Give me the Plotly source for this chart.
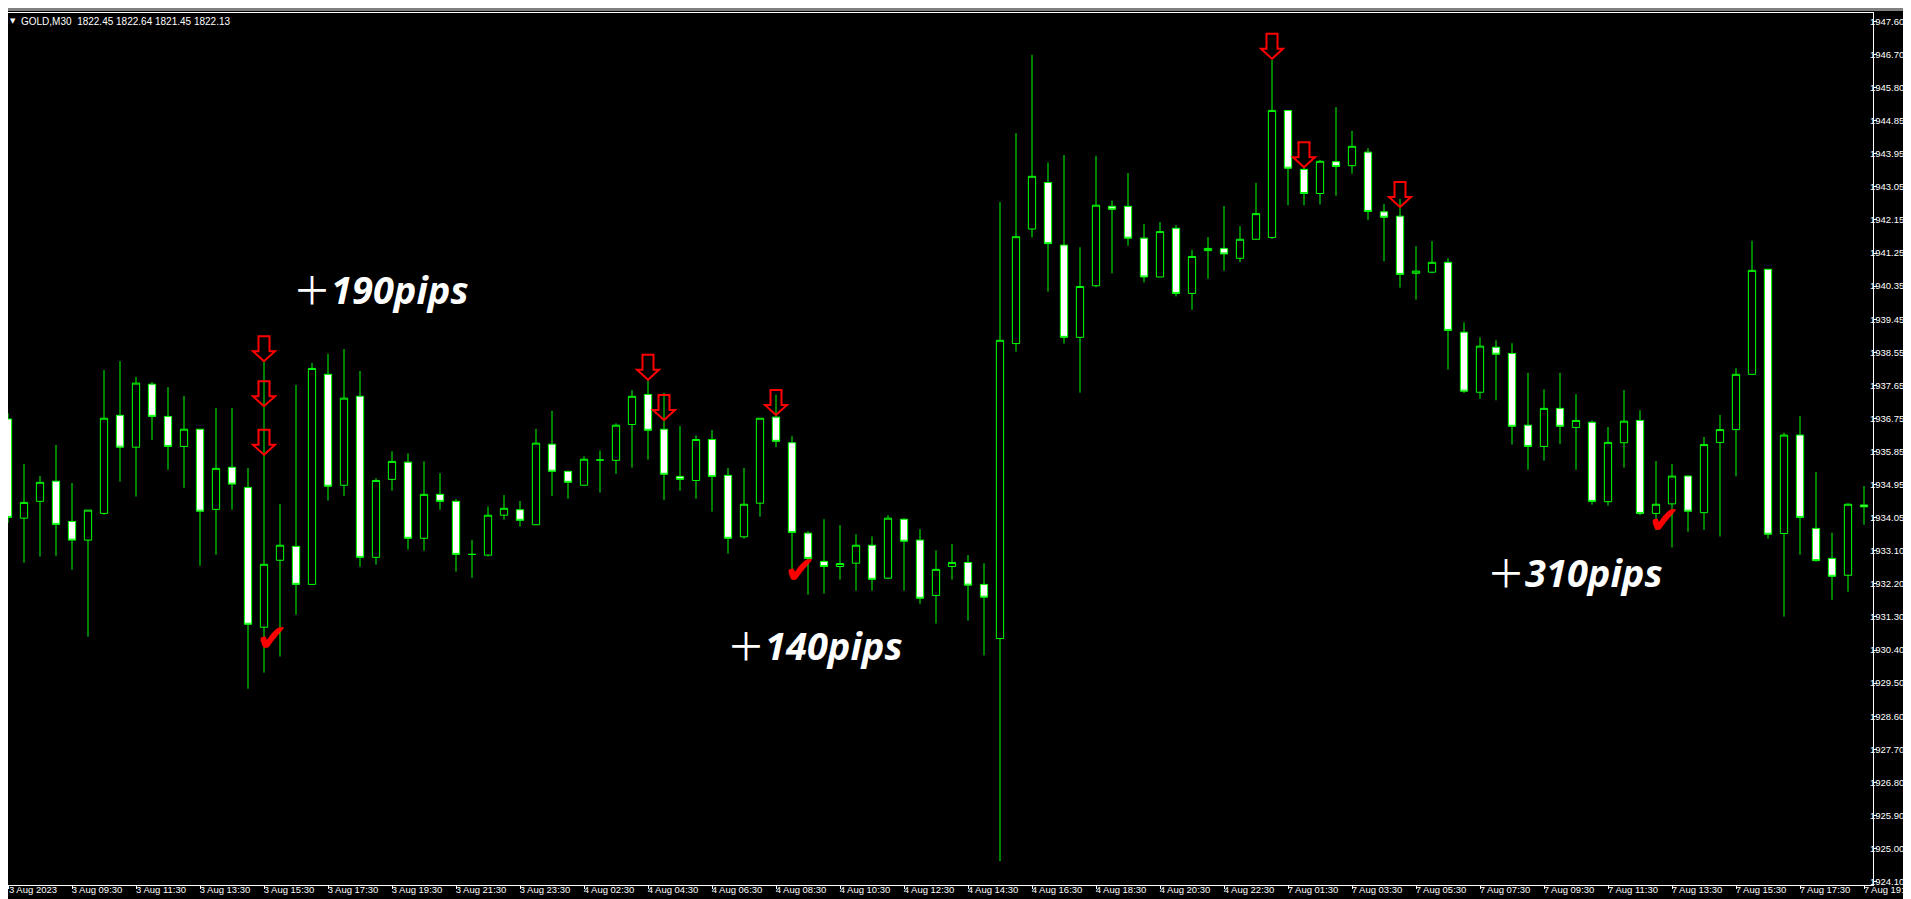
import numpy as np
import plotly.graph_objects as go

# | data section |
# GOLD M30 bars, 3 Aug 07:30 -> 7 Aug 19:30 (left to right)
opens = [
    1936.74, 1934.03, 1934.49, 1935.04, 1933.94, 1933.43, 1934.16, 1936.84, 1935.97, 1937.69,
    1936.81, 1935.99, 1936.46, 1934.27, 1935.42, 1934.87, 1931.05, 1932.88, 1933.26, 1932.22,
    1937.96, 1934.93, 1937.36, 1932.96, 1935.09, 1935.56, 1933.48, 1934.68, 1934.49, 1933.04,
    1933.02, 1934.11, 1934.26, 1933.85, 1936.05, 1935.31, 1934.93, 1935.62, 1935.61, 1936.59,
    1937.41, 1936.46, 1935.17, 1935.06, 1936.18, 1935.20, 1933.52, 1934.44, 1936.79, 1936.09,
    1933.62, 1932.85, 1932.71, 1932.80, 1933.29, 1932.39, 1934.00, 1933.43, 1931.92, 1932.71,
    1932.82, 1932.22, 1930.74, 1938.80, 1941.93, 1943.20, 1941.49, 1938.97, 1940.38, 1942.55,
    1942.55, 1941.68, 1940.62, 1941.95, 1940.17, 1941.34, 1941.40, 1941.13, 1941.65, 1941.70,
    1945.17, 1943.56, 1942.90, 1943.77, 1943.66, 1944.03, 1942.40, 1942.28, 1940.72, 1940.75,
    1941.02, 1939.11, 1937.47, 1938.70, 1938.53, 1936.57, 1935.99, 1937.03, 1936.51, 1936.65,
    1934.48, 1936.09, 1936.70, 1934.16, 1934.42, 1935.18, 1934.18, 1936.10, 1936.45, 1937.96,
    1940.83, 1933.61, 1936.30, 1933.75, 1932.93, 1932.47, 1934.39,
]
highs = [
    1936.90, 1935.51, 1935.18, 1936.03, 1934.99, 1934.25, 1938.08, 1938.32, 1937.89, 1937.75,
    1937.61, 1937.37, 1936.46, 1937.04, 1937.04, 1935.40, 1938.32, 1934.42, 1937.67, 1938.27,
    1938.52, 1938.65, 1938.05, 1935.12, 1935.86, 1935.80, 1935.58, 1935.26, 1934.55, 1933.43,
    1934.35, 1934.66, 1934.50, 1936.47, 1936.96, 1935.31, 1935.72, 1935.88, 1936.62, 1937.53,
    1937.81, 1937.45, 1936.55, 1936.29, 1936.44, 1935.40, 1935.40, 1936.76, 1937.40, 1936.27,
    1933.67, 1934.00, 1933.84, 1933.59, 1933.53, 1934.11, 1934.03, 1933.73, 1933.15, 1933.32,
    1933.02, 1932.80, 1942.67, 1944.55, 1946.69, 1943.75, 1943.95, 1941.43, 1943.93, 1942.71,
    1943.46, 1942.07, 1942.12, 1942.04, 1941.36, 1941.71, 1942.56, 1942.01, 1943.19, 1946.55,
    1945.17, 1943.62, 1943.82, 1945.26, 1944.61, 1944.14, 1942.61, 1942.75, 1941.46, 1941.60,
    1941.13, 1939.38, 1938.97, 1938.89, 1938.81, 1938.00, 1937.55, 1938.00, 1937.42, 1936.70,
    1936.52, 1937.53, 1936.98, 1935.59, 1935.51, 1935.20, 1936.25, 1936.85, 1938.13, 1941.61,
    1940.83, 1936.36, 1936.82, 1935.29, 1933.63, 1934.44, 1934.91,
]
lows = [
    1933.90, 1932.81, 1932.98, 1933.00, 1932.62, 1930.79, 1934.12, 1935.03, 1934.62, 1936.17,
    1935.35, 1934.86, 1932.73, 1933.03, 1934.26, 1929.37, 1929.81, 1930.25, 1931.39, 1932.22,
    1934.51, 1934.64, 1932.70, 1932.76, 1934.78, 1933.17, 1933.14, 1934.26, 1932.57, 1932.40,
    1932.98, 1933.99, 1933.80, 1933.85, 1934.64, 1934.56, 1934.93, 1934.73, 1935.24, 1935.41,
    1935.63, 1934.53, 1934.78, 1934.56, 1934.21, 1933.06, 1933.47, 1934.07, 1935.97, 1932.51,
    1931.94, 1931.97, 1932.35, 1932.05, 1932.05, 1932.36, 1932.05, 1931.69, 1931.15, 1932.35,
    1931.23, 1930.28, 1924.66, 1938.58, 1941.70, 1940.22, 1938.80, 1937.46, 1940.34, 1940.72,
    1941.47, 1940.47, 1940.62, 1940.09, 1939.72, 1940.57, 1940.79, 1941.03, 1941.65, 1941.66,
    1942.58, 1942.58, 1942.60, 1942.84, 1943.44, 1942.18, 1941.05, 1940.33, 1940.00, 1940.72,
    1938.09, 1937.45, 1937.29, 1937.25, 1936.04, 1935.35, 1935.60, 1936.06, 1935.35, 1934.40,
    1934.37, 1935.41, 1934.11, 1933.70, 1933.23, 1933.66, 1933.71, 1933.53, 1935.17, 1937.96,
    1933.47, 1931.34, 1933.03, 1932.84, 1931.80, 1932.02, 1933.85,
]
closes = [
    1934.05, 1934.46, 1935.01, 1933.86, 1933.43, 1934.25, 1936.76, 1935.97, 1937.72, 1936.81,
    1935.99, 1936.46, 1934.22, 1935.39, 1934.96, 1931.13, 1932.77, 1933.29, 1932.22, 1938.12,
    1934.90, 1937.31, 1932.96, 1935.06, 1935.58, 1933.48, 1934.68, 1934.49, 1933.04, 1933.04,
    1934.11, 1934.30, 1933.97, 1936.08, 1935.31, 1935.01, 1935.64, 1935.62, 1936.57, 1937.36,
    1936.43, 1935.23, 1935.09, 1936.18, 1935.17, 1933.48, 1934.41, 1936.76, 1936.13, 1933.64,
    1932.93, 1932.71, 1932.79, 1933.29, 1932.36, 1934.03, 1933.40, 1931.84, 1932.63, 1932.82,
    1932.20, 1931.87, 1938.89, 1941.72, 1943.37, 1941.53, 1938.97, 1940.36, 1942.58, 1942.47,
    1941.68, 1940.62, 1941.86, 1940.17, 1941.18, 1941.40, 1941.25, 1941.65, 1942.35, 1945.17,
    1943.59, 1942.90, 1943.78, 1943.64, 1944.19, 1942.41, 1942.25, 1940.69, 1940.78, 1941.02,
    1939.16, 1937.50, 1938.73, 1938.51, 1936.54, 1935.99, 1937.03, 1936.54, 1936.70, 1934.49,
    1936.10, 1936.68, 1934.16, 1934.41, 1935.18, 1934.22, 1936.04, 1936.45, 1937.96, 1940.80,
    1933.59, 1936.30, 1934.05, 1932.87, 1932.44, 1934.41, 1934.34,
]

# time axis labels (every 4th bar)
time_ticks = [
    "3 Aug 2023", "3 Aug 09:30", "3 Aug 11:30", "3 Aug 13:30", "3 Aug 15:30",
    "3 Aug 17:30", "3 Aug 19:30", "3 Aug 21:30", "3 Aug 23:30", "4 Aug 02:30",
    "4 Aug 04:30", "4 Aug 06:30", "4 Aug 08:30", "4 Aug 10:30", "4 Aug 12:30",
    "4 Aug 14:30", "4 Aug 16:30", "4 Aug 18:30", "4 Aug 20:30", "4 Aug 22:30",
    "7 Aug 01:30", "7 Aug 03:30", "7 Aug 05:30", "7 Aug 07:30", "7 Aug 09:30",
    "7 Aug 11:30", "7 Aug 13:30", "7 Aug 15:30", "7 Aug 17:30", "7 Aug 19:30",
]
price_ticks = [
    "1947.60", "1946.70", "1945.80", "1944.85", "1943.95", "1943.05", "1942.15",
    "1941.25", "1940.35", "1939.45", "1938.55", "1937.65", "1936.75", "1935.85",
    "1934.95", "1934.05", "1933.10", "1932.20", "1931.30", "1930.40", "1929.50",
    "1928.60", "1927.70", "1926.80", "1925.90", "1925.00", "1924.10",
]

# sell signals (bar, price at arrow tip) and exits (bar, price)
arrow_bars = [16, 16, 16, 40, 41, 48, 79, 81, 87]
arrow_prices = [1938.32, 1937.09, 1935.76, 1937.81, 1936.71, 1936.85, 1946.58, 1943.62, 1942.53]
check_bars = [16.5, 49.5, 103.5]
check_prices = [1930.76, 1932.61, 1933.97]
result_texts = ["190pips", "140pips", "310pips"]
result_bars = [23.3, 50.4, 97.9]
result_prices = [1940.29, 1930.57, 1932.56]

header = "GOLD,M30\u00a0\u00a01822.45 1822.64 1821.45 1822.13"

# | graph section |
bars = list(range(len(opens)))
green = "#00ff00"

fig = go.Figure()
fig.add_trace(
    go.Candlestick(
        x=bars,
        open=opens,
        high=highs,
        low=lows,
        close=closes,
        increasing={"line": {"color": green, "width": 1}, "fillcolor": "black"},
        decreasing={"line": {"color": green, "width": 1}, "fillcolor": "white"},
        whiskerwidth=0,
        hoverinfo="skip",
    )
)

# hollow red arrows above the signal bars
arrow_path = "M0,0 L-11,10 L-5.5,10 L-5.5,25 L5.5,25 L5.5,10 L11,10 Z"
for b, p in zip(arrow_bars, arrow_prices):
    fig.add_shape(
        type="path",
        xref="x",
        yref="y",
        xsizemode="pixel",
        ysizemode="pixel",
        xanchor=b,
        yanchor=p,
        path=arrow_path,
        line={"color": "#ff0000", "width": 2},
        fillcolor="rgba(0,0,0,0)",
    )

for b, p in zip(check_bars, check_prices):
    fig.add_annotation(
        x=b, y=p, text="\u2714", showarrow=False,
        font={"family": "DejaVu Sans", "size": 38, "color": "#ff0000"},
    )

for t, b, p in zip(result_texts, result_bars, result_prices):
    fig.add_annotation(
        x=b, y=p, text="\uff0b<b><i>" + t + "</i></b>", showarrow=False,
        font={"family": "Noto Sans, Noto Sans CJK JP", "size": 38, "color": "white"},
    )

# header line
fig.add_annotation(
    xref="paper", yref="paper", x=0, y=1, xanchor="left", yanchor="middle",
    xshift=0, yshift=-8, text="\u25bc", showarrow=False,
    font={"family": "DejaVu Sans", "size": 7, "color": "white"},
)
fig.add_annotation(
    xref="paper", yref="paper", x=0, y=1, xanchor="left", yanchor="middle",
    xshift=11, yshift=-8, text=header, showarrow=False,
    font={"family": "Liberation Sans", "size": 10, "color": "white"},
)

# window frame strips
fig.add_shape(type="rect", xref="paper", yref="paper", x0=0, x1=1.03,
              y0=1 + 2 / 872, y1=1 + 6 / 872, fillcolor="#808080", line={"width": 0})
fig.add_shape(type="rect", xref="paper", yref="paper", x0=0, x1=1.03,
              y0=-21 / 872, y1=-23 / 872, fillcolor="#c8c8c8", line={"width": 0})

tick_font = {"family": "Liberation Sans", "size": 9.5, "color": "white"}
fig.update_layout(
    width=1911,
    height=899,
    margin={"l": 0, "r": 46, "t": 5, "b": 22},
    paper_bgcolor="black",
    plot_bgcolor="black",
    showlegend=False,
    boxgap=0.35,
    xaxis={
        "range": [0, 1865 / 16],
        "rangeslider": {"visible": False},
        "tickvals": bars[::4],
        "ticktext": time_ticks,
        "ticks": "outside",
        "ticklen": 3,
        "tickcolor": "white",
        "tickfont": tick_font,
        "ticklabelshift": 25,
        "ticklabelstandoff": -7,
        "showgrid": False,
        "zeroline": False,
        "showline": True,
        "linecolor": "white",
        "linewidth": 1,
        "mirror": True,
    },
    yaxis={
        "side": "right",
        "range": [1924.007, 1947.832],
        "tickvals": np.linspace(1947.60, 1924.10, len(price_ticks)),
        "ticktext": price_ticks,
        "ticks": "outside",
        "ticklen": 3,
        "tickcolor": "white",
        "tickfont": tick_font,
        "ticklabelstandoff": -9,
        "showgrid": False,
        "zeroline": False,
        "showline": True,
        "linecolor": "white",
        "linewidth": 1,
    },
)

fig.write_html("out.html")
